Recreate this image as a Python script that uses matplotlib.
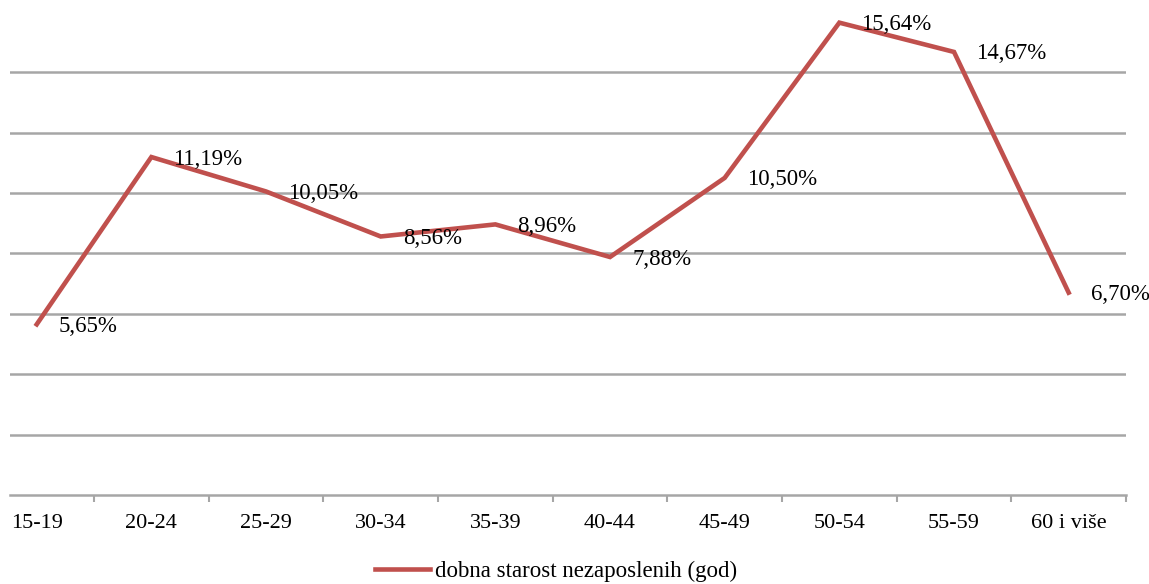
import numpy as np
import matplotlib
matplotlib.use("Agg")
import matplotlib.pyplot as plt

# age groups and share of unemployed (%)
categories = ["15-19", "20-24", "25-29", "30-34", "35-39", "40-44",
              "45-49", "50-54", "55-59", "60 i više"]
values = [5.65, 11.19, 10.05, 8.56, 8.96, 7.88, 10.50, 15.64, 14.67, 6.70]
labels = ["5,65%", "11,19%", "10,05%", "8,56%", "8,96%", "7,88%",
          "10,50%", "15,64%", "14,67%", "6,70%"]
series_name = "dobna starost nezaposlenih (god)"

plt.rcParams['font.family'] = ['Liberation Serif', 'DejaVu Serif']

fig = plt.figure(figsize=(11.49, 5.84), dpi=100)
ax = fig.add_axes([10/1149, 89/584, 1116/1149, 495/584])

x = np.arange(len(categories))
ax.plot(x, values, color='#c0504d', lw=3.3, solid_joinstyle='miter',
        label=series_name, zorder=3)

for xi, v, t in zip(x, values, labels):
    ax.annotate(t, (xi, v), xytext=(22, -2), textcoords='offset pixels',
                ha='left', va='center', fontsize=16.5, color='black',
                zorder=4, annotation_clip=False)

# horizontal gridlines every 2%
for g in range(2, 16, 2):
    ax.axhline(g, color='#a6a6a6', lw=1.8, zorder=1)

ax.set_xlim(-0.233, 9.5)
ax.set_ylim(0, 16.39)
ax.set_yticks([])

ax.set_xticks(x)
ax.set_xticklabels(categories, fontsize=16)
ax.tick_params(axis='x', which='major', length=0, pad=14)
ax.set_xticks(np.arange(0.5, 10, 1), minor=True)
ax.tick_params(axis='x', which='minor', length=5, width=1.5, color='#a6a6a6')

for s in ['top', 'right', 'left']:
    ax.spines[s].set_visible(False)
ax.spines['bottom'].set_color('#a6a6a6')
ax.spines['bottom'].set_linewidth(1.8)

fig.legend(loc='center', bbox_to_anchor=(556/1149, 1 - 571/584),
           frameon=False, fontsize=16.5, handlelength=2.4, handletextpad=0.25)

fig.savefig("out.png", dpi=100)
